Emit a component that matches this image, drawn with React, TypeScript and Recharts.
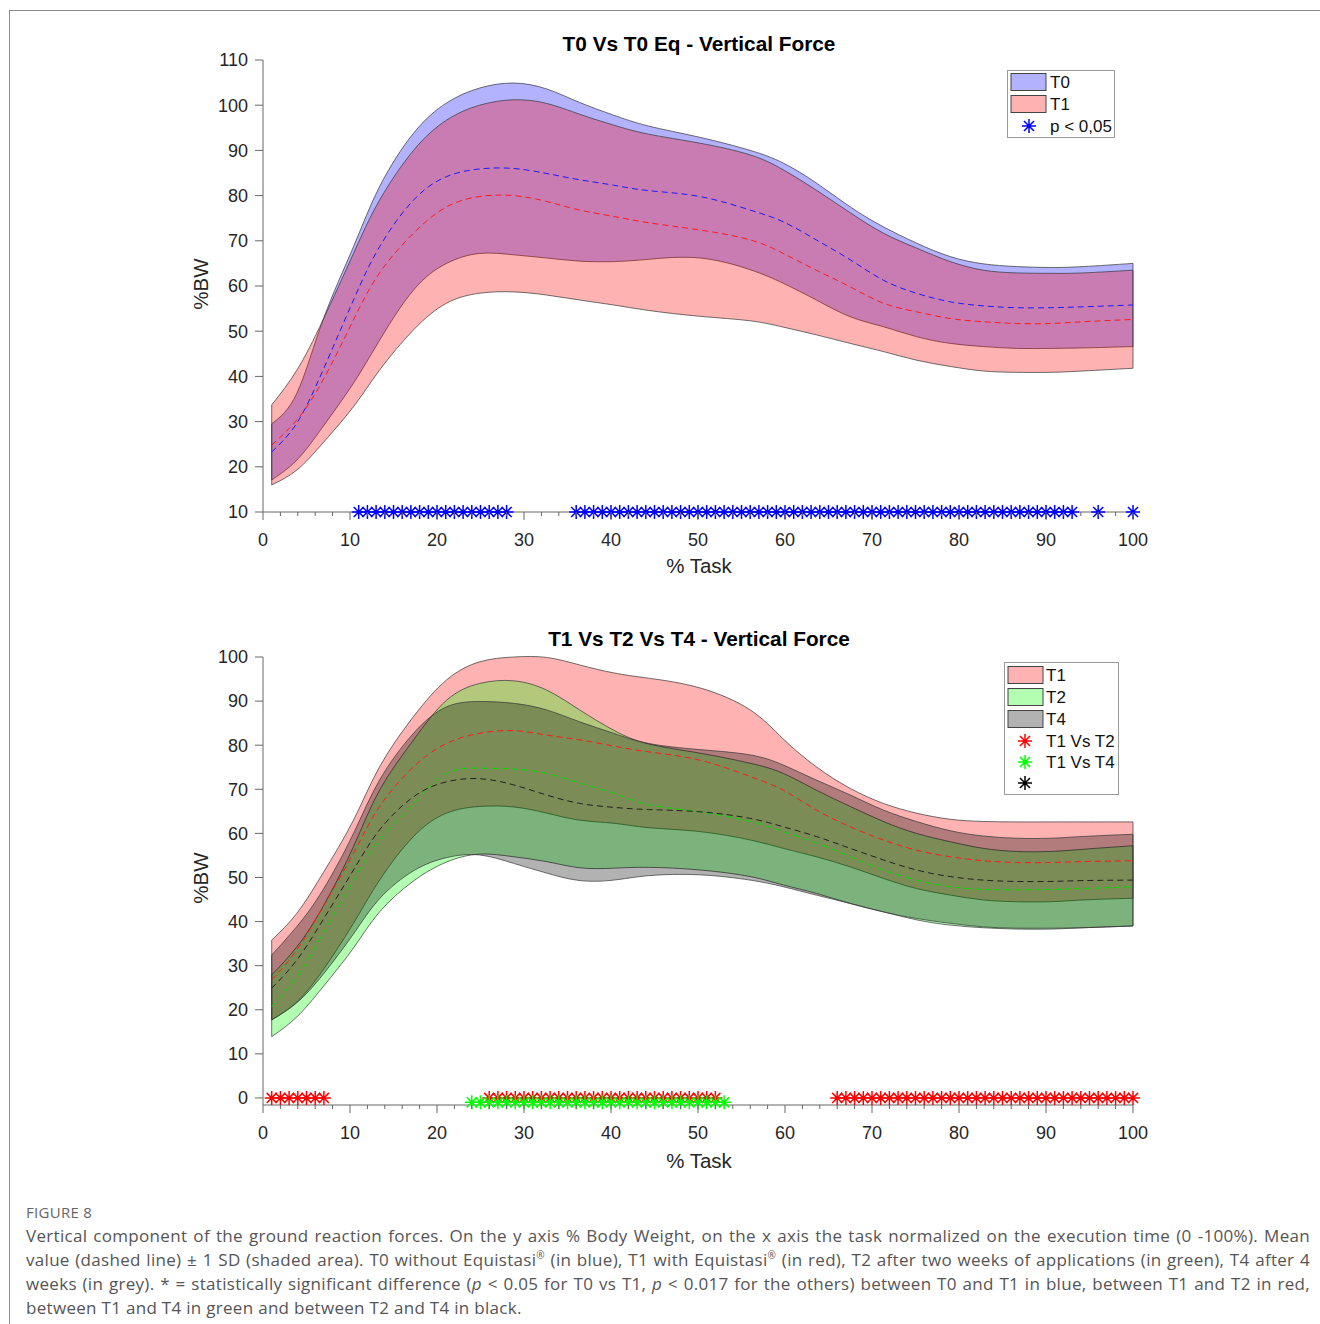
import React from 'react';
import { ComposedChart, Area, Line, Scatter, XAxis, YAxis, ReferenceLine } from 'recharts';

// % of task where the curves were read
const TASK = [1, 3.9, 6.9, 10.4, 13.4, 17.3, 21.1, 24.9, 28.8, 32.6, 36.4, 40.3, 44.3, 50.2, 56, 59.8, 63.6, 67.5, 71.3, 75.1, 79, 82.8, 86.6, 90.5, 94.3, 100];

// top panel: T0 vs T1
const T0_UP = [29.5, 36.3, 52.5, 68.7, 82, 93.8, 100.5, 103.8, 104.9, 103.6, 100.6, 97.8, 95.4, 92.9, 90, 87.2, 82.8, 77.5, 73.1, 69.5, 66.5, 64.9, 64.3, 64.1, 64.3, 65];
const T0_LO = [17.1, 21.5, 28.9, 38.5, 48, 59.1, 65, 67.2, 66.9, 66.2, 65.5, 65.4, 65.9, 66.2, 63.6, 60.6, 56.9, 53.2, 51, 48.8, 47.3, 46.6, 46.2, 46.2, 46.3, 46.6];
const T0_MEAN = [23.3, 29.7, 41.4, 56.9, 68.7, 79, 84.2, 85.9, 86, 84.9, 83.5, 82.3, 81.1, 79.8, 76.8, 74.2, 70.2, 65.8, 61.3, 58.4, 56.5, 55.6, 55.2, 55.2, 55.4, 55.8];
const T1A_UP = [33.7, 41.4, 52.5, 67.2, 79, 90, 96.7, 100, 101.2, 100.4, 98, 95.6, 93.6, 91.6, 89, 85.7, 81.2, 76.2, 71.7, 68.4, 65.4, 63.5, 62.9, 62.8, 62.9, 63.5];
const T1A_LO = [16, 19.3, 25.3, 33.3, 41.4, 50.3, 56.2, 58.4, 58.7, 58, 56.9, 55.8, 54.6, 53.3, 52.3, 50.9, 49.2, 47.3, 45.5, 43.6, 42.2, 41.2, 40.9, 40.9, 41.2, 41.8];
const T1A_MEAN = [24.8, 30.4, 39.2, 52.5, 62.9, 71.7, 77.5, 79.8, 80, 78.7, 76.8, 75.4, 74, 72.4, 70.2, 67.2, 63.5, 59.8, 56.2, 54.3, 52.8, 52.1, 51.7, 51.7, 52.1, 52.6];

// bottom panel: T1 vs T2 vs T4
const T1B_UP = [35.8, 41.9, 51, 63, 75.1, 86.5, 94.8, 98.9, 100, 99.9, 98.2, 96.4, 95.2, 93, 88, 81.4, 75.1, 70.2, 66.8, 64.6, 63.2, 62.7, 62.6, 62.6, 62.6, 62.6];
const T1B_LO = [17.7, 21.8, 29, 39.6, 49.4, 59.3, 64.6, 66.1, 66, 64.6, 63, 62.3, 61.3, 60.4, 58.5, 56.6, 54.7, 52.4, 49.8, 47.5, 46, 44.9, 44.5, 44.5, 44.9, 45.3];
const T1B_MEAN = [26.8, 33.6, 43.4, 55.5, 66.1, 75.1, 80.4, 82.7, 83.3, 82.3, 81.2, 79.8, 78.5, 76.6, 72.9, 69.8, 65.3, 61.5, 58.5, 56.2, 54.7, 53.8, 53.4, 53.4, 53.6, 53.8];
const T2_UP = [27.9, 34.3, 43.4, 57, 69.8, 81.2, 90.2, 94, 94.6, 92.5, 88, 83.4, 80.3, 78.2, 75.9, 73.6, 69.8, 66.1, 62.7, 60, 58.1, 56.6, 55.9, 55.9, 56.4, 57.2];
const T2_LO = [13.9, 18.4, 25.2, 34, 42.2, 49.2, 53.5, 55.3, 54.7, 53.6, 52.2, 52.1, 52.3, 51.7, 50.2, 48.3, 46.4, 44.1, 42.2, 40.4, 39.2, 38.6, 38.3, 38.3, 38.6, 39];
const T2_MEAN = [20.7, 27.5, 37.3, 49.4, 58.5, 66.8, 73.6, 74.8, 74.6, 73.6, 71.4, 69.1, 66.5, 64.9, 62.7, 60.4, 57.8, 54.7, 51.7, 49.4, 47.9, 47.3, 47.2, 47.3, 47.5, 47.9];
const T4_UP = [32.4, 38.9, 47.2, 60, 72.1, 82.7, 88.7, 89.9, 89.5, 88, 85.3, 82.7, 80.4, 79, 77.8, 75.5, 72.1, 68.7, 65.3, 62.7, 60.6, 59.4, 58.9, 58.9, 59.3, 59.8];
const T4_LO = [17.7, 21.6, 28, 37.2, 45.2, 51.5, 54.5, 55.1, 53.2, 51, 49.3, 49.4, 50.4, 50.6, 49.4, 47.9, 46, 44.1, 42.2, 40.7, 39.6, 38.8, 38.5, 38.5, 38.6, 39];
const T4_MEAN = [24.9, 31.3, 40.4, 51.7, 60.8, 68.3, 71.7, 72.4, 71, 68.7, 66.8, 65.9, 65.4, 64.9, 63.4, 61.5, 59.3, 56.6, 54, 51.7, 50.2, 49.4, 49.1, 49.1, 49.3, 49.4];

// significant samples (first, last) in % task
const SIG_T0_T1 = [[11, 28], [36, 93], [96, 96], [100, 100]];
const SIG_T1_T2 = [[1, 7], [26, 52], [66, 100]];
const SIG_T1_T4 = [[24, 53]];

const X_TICKS = Array.from({ length: 51 }, (_, i) => i * 2);
const Y_TICKS_TOP = [10, 20, 30, 40, 50, 60, 70, 80, 90, 100, 110];
const Y_TICKS_BOTTOM = [0, 10, 20, 30, 40, 50, 60, 70, 80, 90, 100];

const FONT = '"Liberation Sans", Arial, sans-serif';
const AXIS = '#666';
const TEXT = '#262626';

const expand = (ranges: number[][], y: number) => {
  const out: { x: number; y: number }[] = [];
  ranges.forEach(([a, b]) => { for (let x = a; x <= b; x++) out.push({ x, y }); });
  return out;
};

const Star = ({ cx, cy, color, r = 7 }: any) => {
  if (cx == null || cy == null) return null;
  const d = r * 0.72;
  return (
    <path
      d={`M${cx - r},${cy}H${cx + r}M${cx},${cy - r}V${cy + r}M${cx - d},${cy - d}L${cx + d},${cy + d}M${cx - d},${cy + d}L${cx + d},${cy - d}`}
      stroke={color} strokeWidth={1.5} fill="none"
    />
  );
};

const XTick = ({ x, y, payload }: any) => {
  const major = payload.value % 10 === 0;
  return (
    <g>
      <line x1={x} x2={x} y1={y} y2={y + (major ? 8 : 4)} stroke={AXIS} />
      {major && (
        <text x={x} y={y + 34} textAnchor="middle" fontSize={18} fontFamily={FONT} fill={TEXT}>{payload.value}</text>
      )}
    </g>
  );
};

function Panel({ top, height, margin, yDomain, yTicks, bands, stars }: any) {
  const rows = TASK.map((x, i) => {
    const r: any = { x };
    bands.forEach((b: any) => {
      r[b.id] = [b.lo[i], b.up[i]];
      r[b.id + 'm'] = b.mean[i];
    });
    return r;
  });
  const ends = [0, TASK.length - 1];
  return (
    <div style={{ position: 'absolute', left: 0, top }}>
      <ComposedChart width={1320} height={height} data={rows} margin={margin}>
        <XAxis
          dataKey="x" type="number" domain={[0, 100]} ticks={X_TICKS} interval={0}
          tickLine={false} tickSize={0} tickMargin={0} height={60}
          axisLine={{ stroke: AXIS }} tick={<XTick />}
        />
        <YAxis
          type="number" domain={yDomain} ticks={yTicks} interval={0} width={60}
          tickSize={8} tickMargin={7} axisLine={{ stroke: AXIS }} tickLine={{ stroke: AXIS }}
          tick={{ fontSize: 18, fontFamily: FONT, fill: TEXT }}
        />
        {bands.map((b: any) => (
          <Area
            key={b.id} dataKey={b.id} type="natural" fill={b.color} fillOpacity={0.3}
            stroke="#333" strokeWidth={0.7} isAnimationActive={false}
          />
        ))}
        {bands.map((b: any) => ends.map((i) => (
          <ReferenceLine
            key={b.id + i}
            segment={[{ x: TASK[i], y: b.lo[i] }, { x: TASK[i], y: b.up[i] }]}
            stroke="#333" strokeWidth={0.7} ifOverflow="visible"
          />
        )))}
        {bands.map((b: any) => (
          <Line
            key={b.id + 'm'} dataKey={b.id + 'm'} type="natural" stroke={b.line}
            strokeWidth={1} strokeDasharray="6 4" dot={false} isAnimationActive={false}
          />
        ))}
        {stars.map((s: any, k: number) => (
          <Scatter
            key={'s' + k} data={s.data} dataKey="y" isAnimationActive={false}
            shape={(p: any) => <Star cx={p.cx} cy={p.cy} color={s.color} />}
          />
        ))}
      </ComposedChart>
    </div>
  );
}

const Caption = ({ children, style }: any) => (
  <div style={{ position: 'absolute', whiteSpace: 'nowrap', fontFamily: FONT, ...style }}>{children}</div>
);

function LegendBox({ left, top, width, height, items }: any) {
  return (
    <div style={{ position: 'absolute', left, top, width, height, border: '1px solid #9a9a9a', background: '#fff', boxSizing: 'border-box' }}>
      <svg width={width} height={height} style={{ position: 'absolute', left: -1, top: -1 }}>
        {items.map((it: any, k: number) => (
          <g key={k}>
            {it.kind === 'swatch' ? (
              <rect x={4} y={it.y - 8.5} width={35} height={17} fill={it.color} fillOpacity={0.3} stroke="#444" strokeWidth={1} />
            ) : (
              <Star cx={it.sx} cy={it.y} color={it.color} />
            )}
            <text x={it.tx} y={it.y} dy="0.36em" fontSize={17} fontFamily={FONT} fill="#111">{it.label}</text>
          </g>
        ))}
      </svg>
    </div>
  );
}

const Sup = () => <sup style={{ fontSize: 10, lineHeight: 0 }}>®</sup>;

const justified = { width: 1284, textAlign: 'justify' as const, textAlignLast: 'justify' as const };

export default function App() {
  const topBands = [
    { id: 't0', up: T0_UP, lo: T0_LO, mean: T0_MEAN, color: '#0000ff', line: '#1a1aff' },
    { id: 't1', up: T1A_UP, lo: T1A_LO, mean: T1A_MEAN, color: '#ff0000', line: '#ff1a1a' },
  ];
  const bottomBands = [
    { id: 't1', up: T1B_UP, lo: T1B_LO, mean: T1B_MEAN, color: '#ff0000', line: '#ff1a1a' },
    { id: 't2', up: T2_UP, lo: T2_LO, mean: T2_MEAN, color: '#00ff00', line: '#00dd00' },
    { id: 't4', up: T4_UP, lo: T4_LO, mean: T4_MEAN, color: '#000000', line: '#222' },
  ];
  return (
    <div style={{ position: 'absolute', left: 0, top: 0, width: 1320, height: 1324, background: '#fff', overflow: 'hidden' }}>
      <div style={{ position: 'absolute', left: 9, top: 10, width: 1320, height: 1330, borderLeft: '1px solid #8c8c8c', borderTop: '1px solid #8c8c8c' }} />

      <Panel
        top={0} height={600} margin={{ top: 60, right: 187, bottom: 28, left: 203 }}
        yDomain={[10, 110]} yTicks={Y_TICKS_TOP} bands={topBands}
        stars={[{ data: expand(SIG_T0_T1, 10), color: '#0000ff' }]}
      />
      <Panel
        top={600} height={600} margin={{ top: 57, right: 187, bottom: 35, left: 203 }}
        yDomain={[-1.6, 100]} yTicks={Y_TICKS_BOTTOM} bands={bottomBands}
        stars={[
          { data: expand(SIG_T1_T2, 0), color: '#ff0000' },
          { data: expand(SIG_T1_T4, -1), color: '#00ff00' },
        ]}
      />

      <Caption style={{ left: 699, top: 31, transform: 'translateX(-50%)', fontSize: 20.8, fontWeight: 700, color: '#000', lineHeight: '26px' }}>T0 Vs T0 Eq - Vertical Force</Caption>
      <Caption style={{ left: 699, top: 626, transform: 'translateX(-50%)', fontSize: 20.8, fontWeight: 700, color: '#000', lineHeight: '26px' }}>T1 Vs T2 Vs T4 - Vertical Force</Caption>
      <Caption style={{ left: 699, top: 553, transform: 'translateX(-50%)', fontSize: 20.5, color: TEXT, lineHeight: '26px' }}>% Task</Caption>
      <Caption style={{ left: 699, top: 1148, transform: 'translateX(-50%)', fontSize: 20.5, color: TEXT, lineHeight: '26px' }}>% Task</Caption>
      <Caption style={{ left: 201, top: 284, transform: 'translate(-50%, -50%) rotate(-90deg)', fontSize: 20.5, color: TEXT }}>%BW</Caption>
      <Caption style={{ left: 201, top: 878, transform: 'translate(-50%, -50%) rotate(-90deg)', fontSize: 20.5, color: TEXT }}>%BW</Caption>

      <LegendBox
        left={1007} top={70} width={108} height={68}
        items={[
          { kind: 'swatch', color: '#0000ff', label: 'T0', y: 12, tx: 43 },
          { kind: 'swatch', color: '#ff0000', label: 'T1', y: 34, tx: 43 },
          { kind: 'star', color: '#0000ff', label: 'p < 0,05', y: 56, sx: 22, tx: 43 },
        ]}
      />
      <LegendBox
        left={1004} top={662} width={115} height={133}
        items={[
          { kind: 'swatch', color: '#ff0000', label: 'T1', y: 13, tx: 42 },
          { kind: 'swatch', color: '#00ff00', label: 'T2', y: 35, tx: 42 },
          { kind: 'swatch', color: '#000000', label: 'T4', y: 57, tx: 42 },
          { kind: 'star', color: '#ff0000', label: 'T1 Vs T2', y: 79, sx: 21, tx: 42 },
          { kind: 'star', color: '#00ff00', label: 'T1 Vs T4', y: 100, sx: 21, tx: 42 },
          { kind: 'star', color: '#000000', label: '', y: 121, sx: 21, tx: 42 },
        ]}
      />

      <Caption style={{ left: 26, top: 1202, fontSize: 15, color: '#666', fontFamily: '"Open Sans", sans-serif', letterSpacing: 0.3 }}>FIGURE 8</Caption>
      <div style={{ position: 'absolute', left: 26, top: 1224, fontFamily: '"Open Sans", sans-serif', fontSize: 17, letterSpacing: 0.3, lineHeight: '24px', color: '#555', whiteSpace: 'nowrap' }}>
        <div style={justified}>Vertical component of the ground reaction forces. On the y axis % Body Weight, on the x axis the task normalized on the execution time (0 -100%). Mean</div>
        <div style={justified}>value (dashed line) ± 1 SD (shaded area). T0 without Equistasi<Sup /> (in blue), T1 with Equistasi<Sup /> (in red), T2 after two weeks of applications (in green), T4 after 4</div>
        <div style={justified}>weeks (in grey). * = statistically significant difference (<i>p</i> &lt; 0.05 for T0 vs T1, <i>p</i> &lt; 0.017 for the others) between T0 and T1 in blue, between T1 and T2 in red,</div>
        <div>between T1 and T4 in green and between T2 and T4 in black.</div>
      </div>
    </div>
  );
}
